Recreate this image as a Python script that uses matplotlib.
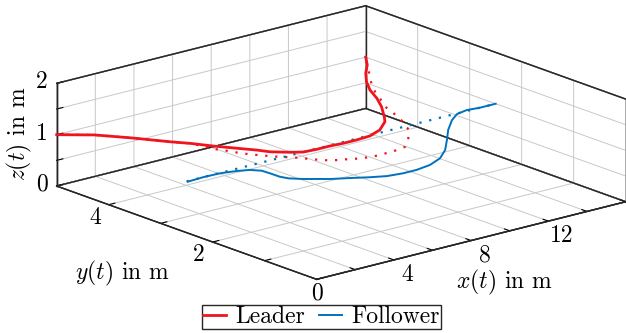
import matplotlib
matplotlib.use('Agg')
import matplotlib.pyplot as plt
from mpl_toolkits.mplot3d import proj3d

# Trajectories; all of them are flown at z = 1 m
flight_height = 1.0

leader_x = [0.00, 1.14, 2.04, 2.85, 3.33, 3.81, 4.33, 4.79, 5.05, 5.61, 6.04, 6.68,
            7.36, 8.00, 8.69, 9.43, 10.24, 11.10, 11.50, 12.27, 12.84, 13.34, 13.94,
            14.63, 15.38, 16.00]
leader_y = [5.00, 4.69, 4.29, 3.88, 3.67, 3.40, 3.15, 2.93, 2.77, 2.60, 2.50, 2.48,
            2.48, 2.46, 2.46, 2.48, 2.59, 2.81, 2.97, 3.31, 3.61, 3.93, 4.22,
            4.49, 4.74, 5.00]

leader_ref_x = [0.00, 1.14, 2.04, 2.85, 3.33, 3.63, 3.84, 4.00, 4.19, 4.41, 4.85, 5.40,
                5.61, 5.84, 6.07, 6.38, 6.74, 7.10, 7.57, 8.05, 8.57, 9.06, 9.59,
                10.40, 11.13, 11.85, 12.15, 12.38, 12.94, 13.34, 13.81, 16.00]
leader_ref_y = [5.00, 4.69, 4.29, 3.88, 3.67, 3.27, 3.13, 2.99, 2.87, 2.76, 2.56, 2.36,
                2.25, 2.14, 2.05, 1.98, 1.93, 1.87, 1.82, 1.80, 1.81, 1.82, 1.86,
                2.10, 2.36, 2.80, 3.07, 3.28, 3.59, 3.83, 4.07, 5.00]

follower_x = [0.00, 0.85, 1.69, 2.40, 2.89, 3.19, 3.22, 3.23, 3.35, 3.75, 4.26, 4.56,
              5.26, 5.92, 6.54, 7.28, 7.97, 8.80, 9.67, 10.53, 11.43, 12.33, 13.28,
              13.94, 14.58, 15.18, 16.00]
follower_y = [2.48, 2.50, 2.49, 2.43, 2.36, 2.24, 2.09, 1.91, 1.79, 1.65, 1.52, 1.44,
              1.31, 1.18, 1.08, 1.04, 1.04, 1.09, 1.22, 1.44, 1.74, 2.05, 2.33,
              2.48, 2.53, 2.50, 2.50]

follower_ref_x = [0.0, 16.0]
follower_ref_y = [2.5, 2.5]

x_ticks = [0, 2, 4, 6, 8, 10, 12, 14, 16]
x_ticklabels = ['', '', '4', '', '8', '', '12', '', '']
y_ticks = [0, 1, 2, 3, 4, 5]
y_ticklabels = ['', '', '2', '', '4', '']
z_ticks = [0, 0.5, 1, 1.5, 2]
z_ticklabels = ['0', '', '1', '', '2']
origin_label = '0'

red = '#f0141e'
blue = '#0072bd'
edge = '#262626'

plt.rcParams.update({
    'font.family': 'serif',
    'font.serif': ['cmr10'],
    'mathtext.fontset': 'cm',
    'axes.formatter.use_mathtext': True,
    'font.size': 17,
    'grid.color': '#c8c8c8',
    'grid.linewidth': 0.7,
    'axes.edgecolor': edge,
    'axes.linewidth': 1.0,
    'xtick.major.width': 0.8,
    'ytick.major.width': 0.8,
})
if 'axes3d.automargin' in plt.rcParams:
    plt.rcParams['axes3d.automargin'] = False

W, H = 626, 333
fig = plt.figure(figsize=(W / 100, H / 100), dpi=100)
ax = fig.add_axes([19.7 / W, -131 / H, 1.0, W / H],
                  projection='3d', proj_type='ortho')
ax.view_init(elev=17.47, azim=-129.91)
ax.set_box_aspect((402.9, 405.2, 107.67), zoom=0.9016)

ax.set_xlim(0, 16)
ax.set_ylim(0, 5)
ax.set_zlim(0, 2)
x0, x1 = ax.get_xlim()
y0, y1 = ax.get_ylim()
z0, z1 = ax.get_zlim()

# black box outline on top of the grid
box_edges = [
    ([x0, x1], [y1, y1], [z0, z0]), ([x0, x1], [y1, y1], [z1, z1]),
    ([x1, x1], [y0, y1], [z0, z0]), ([x1, x1], [y0, y1], [z1, z1]),
    ([x1, x1], [y1, y1], [z0, z1]), ([x0, x0], [y1, y1], [z0, z1]),
    ([x1, x1], [y0, y0], [z0, z1]), ([x0, x1], [y0, y0], [z0, z0]),
    ([x0, x0], [y0, y1], [z0, z0]),
]
for ex, ey, ez in box_edges:
    ax.plot(ex, ey, ez, color=edge, lw=1.0)

ax.plot(leader_ref_x, leader_ref_y, flight_height, color=red, lw=1.6,
        linestyle=(0, (1, 3.5)))
ax.plot(follower_ref_x, follower_ref_y, flight_height, color=blue, lw=1.6,
        linestyle=(0, (1, 3.5)))
ax.plot(leader_x, leader_y, flight_height, color=red, lw=2.0, label='Leader')
ax.plot(follower_x, follower_y, flight_height, color=blue, lw=1.4, label='Follower')

ax.set_xticks(x_ticks)
ax.set_yticks(y_ticks)
ax.set_zticks(z_ticks)

for axis in (ax.xaxis, ax.yaxis, ax.zaxis):
    axis.set_tick_params(labelbottom=False, labeltop=False)
    axis.set_pane_color((1, 1, 1, 1))
    axis.pane.set_edgecolor(edge)
    axis.pane.set_linewidth(1.0)
    axis._axinfo['tick']['inward_factor'] = 0.0
    axis._axinfo['tick']['outward_factor'] = 0.25
    # the built-in (empty) label and offset texts are not used
    axis.label.set_visible(False)
    axis.get_offset_text().set_visible(False)
for t in (ax.title, ax._left_title, ax._right_title):
    t.set_visible(False)

fig.canvas.draw()
M = ax.get_proj()


def label3d(x, y, z, s):
    # put a plain 2D text where the 3D point lands
    px, py, _ = proj3d.proj_transform(x, y, z, M)
    ax.text2D(px, py, s, transform=ax.transData, ha='center', va='center')


# tick labels, placed just outside the box
for t, s in zip(x_ticks, x_ticklabels):
    if s:
        label3d(t, y0 - 0.26, z0 - 0.19, s)
for t, s in zip(y_ticks, y_ticklabels):
    if s:
        label3d(x0 - 0.70, t, z0 - 0.19, s)
for t, s in zip(z_ticks, z_ticklabels):
    if s:
        label3d(x0, y1 + 0.28, t - 0.08, s)
label3d(x0, y0, z0 - 0.27, origin_label)

fig.text(19 / W, 1 - 134 / H, r'$z(t)$ in m', rotation=90, ha='center', va='center')
fig.text(123 / W, 1 - 273 / H, r'$y(t)$ in m', ha='center', va='center')
fig.text(504.5 / W, 1 - 282.5 / H, r'$x(t)$ in m', ha='center', va='center')

fig.legend(loc='lower center', bbox_to_anchor=(321.5 / W, 4 / H), ncol=2,
           frameon=True, fancybox=False, edgecolor=edge, framealpha=1,
           borderpad=0.05, borderaxespad=0, handlelength=0.95,
           handletextpad=0.4, columnspacing=0.6, fontsize=17)

fig.savefig('out.png', dpi=100)
